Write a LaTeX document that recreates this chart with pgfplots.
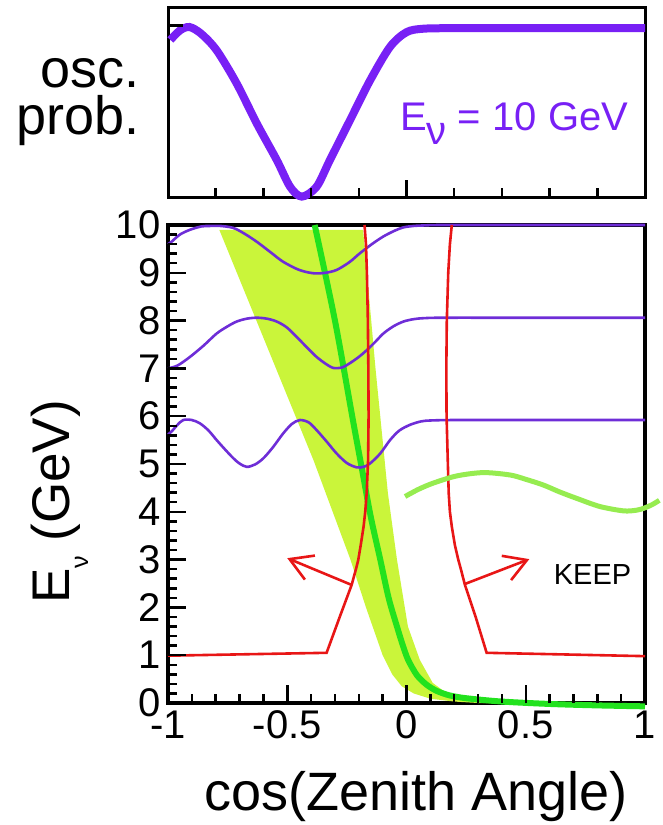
\documentclass[border=0pt]{standalone}
\usepackage{fontspec}
\setmainfont{Liberation Sans}
\usepackage{pgfplots}
\pgfplotsset{compat=1.18}
\usetikzlibrary{arrows.meta}

\definecolor{oscpurple}{RGB}{120,32,245}
\definecolor{linepurple}{RGB}{110,45,215}
\definecolor{cutred}{RGB}{232,22,22}
\definecolor{bandgreen}{RGB}{202,245,58}
\definecolor{peakgreen}{RGB}{34,226,30}
\definecolor{softgreen}{RGB}{150,236,80}

\newcommand{\fs}[1]{\fontsize{#1}{#1}\selectfont}

\begin{document}
\begin{tikzpicture}

% ---------------- lower panel: E_nu versus cos(zenith) ----------------
\begin{axis}[
  name=main,
  at={(0pt,0pt)}, anchor=south west,
  scale only axis, width=477pt, height=478pt,
  xmin=-1, xmax=1, ymin=0, ymax=10,
  axis line style={line width=4pt},
  xtick={-1,-0.5,0,0.5,1},
  xticklabels={-1,-0.5,0,0.5,1},
  minor x tick num=4,
  ytick={0,1,2,3,4,5,6,7,8,9,10},
  yticklabels={0,1,2,3,4,5,6,7,8,9,10},
  minor y tick num=4,
  tick pos=left,
  tick align=inside,
  major tick length=18pt, minor tick length=9pt,
  tick style={line width=2.5pt, draw=black},
  tick label style={font=\fs{40pt}},
  xticklabel style={yshift=-4pt},
  yticklabel style={xshift=-4pt},
  clip=false,
]
% spread of the peak region
\addplot[fill=bandgreen, draw=none] coordinates {
  (-0.785,9.9) (-0.39,5.08) (-0.235,3.0) (-0.17,2.0) (-0.10,1.0)
  (-0.06,0.6) (-0.02,0.35) (0.03,0.2) (0.10,0.09) (0.20,0.03) (0.30,0.0)
  (0.38,0.0) (0.25,0.07) (0.17,0.2) (0.11,0.42) (0.056,0.9) (0.006,1.6)
  (-0.04,3.0) (-0.078,4.39) (-0.13,7.0) (-0.182,9.9)
};
% peak line
\addplot[peakgreen, line width=6pt, smooth] coordinates {
  (-0.385,10) (-0.30,8.0) (-0.224,5.9) (-0.187,4.9) (-0.15,3.9)
  (-0.11,3.0) (-0.075,2.2) (-0.04,1.6) (-0.015,1.2) (0.007,0.9)
  (0.044,0.58) (0.085,0.38) (0.128,0.25) (0.18,0.16) (0.25,0.10)
  (0.40,0.03) (0.60,-0.02) (0.80,-0.05) (1.0,-0.07)
};
% oscillation pattern at E = 10, 8 and 6 GeV
\addplot[linepurple, line width=2.6pt, smooth] coordinates {
  (-1,9.60) (-0.985,9.65) (-0.95,9.80) (-0.908,9.90) (-0.86,9.97)
  (-0.824,9.98) (-0.78,9.98) (-0.727,9.94) (-0.68,9.82) (-0.628,9.65)
  (-0.57,9.43) (-0.517,9.23) (-0.45,9.06) (-0.39,8.99) (-0.34,9.00)
  (-0.293,9.06) (-0.24,9.22) (-0.195,9.41) (-0.145,9.60) (-0.097,9.76)
  (-0.05,9.88) (-0.013,9.95) (0.03,9.98) (0.07,9.99) (0.15,10.0)
  (0.5,10.0) (1.0,10.0)
};
\addplot[linepurple, line width=2.6pt, smooth] coordinates {
  (-1,7.0) (-0.96,7.06) (-0.908,7.24) (-0.85,7.48) (-0.796,7.73)
  (-0.75,7.88) (-0.712,7.98) (-0.67,8.04) (-0.628,8.06) (-0.585,8.04)
  (-0.544,7.98) (-0.50,7.85) (-0.447,7.59) (-0.41,7.40) (-0.377,7.24)
  (-0.34,7.10) (-0.307,7.01) (-0.27,7.02) (-0.237,7.11) (-0.20,7.24)
  (-0.167,7.38) (-0.13,7.56) (-0.097,7.73) (-0.055,7.88) (-0.013,7.98)
  (0.03,8.03) (0.07,8.05) (0.15,8.06) (0.5,8.06) (1.0,8.06)
};
\addplot[linepurple, line width=2.6pt, smooth] coordinates {
  (-1,5.62) (-0.985,5.68) (-0.96,5.82) (-0.936,5.92) (-0.90,5.92)
  (-0.866,5.85) (-0.83,5.70) (-0.796,5.50) (-0.76,5.30) (-0.726,5.12)
  (-0.70,5.01) (-0.67,4.94) (-0.635,4.99) (-0.60,5.12) (-0.56,5.35)
  (-0.517,5.64) (-0.48,5.84) (-0.447,5.92) (-0.41,5.87) (-0.377,5.71)
  (-0.335,5.47) (-0.293,5.22) (-0.25,5.02) (-0.209,4.93) (-0.18,4.94)
  (-0.153,5.01) (-0.11,5.22) (-0.069,5.50) (-0.03,5.70) (0.015,5.82)
  (0.06,5.89) (0.099,5.91) (0.2,5.92) (0.5,5.92) (1.0,5.92)
};
% selection cuts
\addplot[cutred, line width=2.6pt] coordinates {
  (-1,0.99) (-0.335,1.05) (-0.28,1.80) (-0.23,2.47) (-0.212,2.8)
  (-0.202,3.0) (-0.192,3.3) (-0.18,3.69) (-0.173,4.0) (-0.167,4.39)
  (-0.161,5.08) (-0.159,6.0) (-0.16,7.0) (-0.162,8.0) (-0.166,9.0)
  (-0.170,9.6) (-0.176,10.0)
};
\addplot[cutred, line width=2.6pt] coordinates {
  (1.0,0.98) (0.336,1.05) (0.29,1.80) (0.245,2.47) (0.228,2.8)
  (0.217,3.0) (0.203,3.3) (0.19,3.69) (0.182,4.0) (0.177,4.39)
  (0.173,5.08) (0.168,6.0) (0.167,7.0) (0.169,8.0) (0.175,9.0)
  (0.182,9.6) (0.19,10.0)
};
\draw[cutred, line width=2.6pt, -{Straight Barb[length=22pt, width=26pt]}]
  (axis cs:-0.23,2.47) -- (axis cs:-0.50,3.03);
\draw[cutred, line width=2.6pt, -{Straight Barb[length=22pt, width=26pt]}]
  (axis cs:0.245,2.49) -- (axis cs:0.515,3.01);
\node[font=\fs{29pt}] at (axis cs:0.78,2.68) {KEEP};
% down-going reference curve
\addplot[softgreen, line width=5pt, smooth] coordinates {
  (-0.006,4.32) (0.05,4.47) (0.112,4.60) (0.21,4.75) (0.322,4.82)
  (0.434,4.77) (0.50,4.68) (0.574,4.56) (0.64,4.42) (0.714,4.28)
  (0.811,4.11) (0.909,4.02) (0.96,4.03) (0.993,4.07) (1.03,4.15)
  (1.06,4.24)
};
\end{axis}

% ---------------- upper panel: oscillation probability at 10 GeV ----------------
\begin{axis}[
  at={(0pt,505pt)}, anchor=south west,
  scale only axis, width=477pt, height=190pt,
  xmin=-1, xmax=1, ymin=0, ymax=1.1,
  axis line style={line width=3pt},
  xtick={-1,0,1},
  minor xtick={-0.8,-0.6,-0.4,-0.2,0.2,0.4,0.6,0.8},
  ytick={1},
  xticklabels={}, yticklabels={},
  tick pos=left,
  tick align=inside,
  major tick length=18pt, minor tick length=10pt,
  tick style={line width=2.5pt, draw=black},
  clip=false,
]
\addplot[oscpurple, line width=8pt, smooth] coordinates {
  (-0.99,0.915) (-0.95,0.97) (-0.91,0.99) (-0.86,0.95) (-0.796,0.855)
  (-0.712,0.663) (-0.628,0.432) (-0.544,0.22) (-0.488,0.065)
  (-0.439,0.008) (-0.377,0.065) (-0.321,0.22) (-0.237,0.45)
  (-0.153,0.68) (-0.069,0.875) (0.0,0.96) (0.07,0.98) (0.2,0.983)
  (0.6,0.983) (1.0,0.983)
};
\node[anchor=base east, text=oscpurple, font=\fs{40pt}, inner sep=0pt]
  at (axis cs:0.93,0.39)
  {E\raisebox{-0.35em}{ν} = 10 GeV};
\end{axis}

% ---------------- tick combs along the lower and left edges ----------------
\begin{scope}[line width=2.5pt, black]
  % lower panel, energy axis: minor every 0.2 GeV, major every 1 GeV
  \foreach \k in {0,...,50} {\draw ({0pt},{\k*9.56pt}) -- ++(9pt,0pt);}
  \foreach \k in {0,...,10} {\draw ({0pt},{\k*47.8pt}) -- ++(18pt,0pt);}
  % lower panel, cos(zenith) axis: minor every 0.1, major every 0.5
  \foreach \k in {0,...,20} {\draw ({\k*23.85pt},{0pt}) -- ++(0pt,9pt);}
  \foreach \k in {0,...,4} {\draw ({\k*119.25pt},{0pt}) -- ++(0pt,18pt);}
  % upper panel: minor every 0.2, major at -1, 0, 1, and the P = 1 mark
  \foreach \k in {0,...,10} {\draw ({\k*47.7pt},{505pt}) -- ++(0pt,10pt);}
  \foreach \k in {0,...,2} {\draw ({\k*238.5pt},{505pt}) -- ++(0pt,18pt);}
  \draw (0pt,677.7pt) -- ++(15pt,0pt);
\end{scope}

% ---------------- panel titles and axis labels ----------------
\node[anchor=base east, font=\fs{54pt}, inner sep=0pt] at (-28pt,615pt) {osc.};
\node[anchor=base east, font=\fs{54pt}, inner sep=0pt] at (-28pt,568pt) {prob.};
\node[anchor=base, font=\fs{54pt}, inner sep=0pt] at (248pt,-107pt) {cos(Zenith Angle)};
\node[anchor=base, rotate=90, font=\fs{53pt}, inner sep=0pt] at (-98pt,201pt)
  {E\raisebox{-0.34em}{\fs{25pt}ν} (GeV)};

% page frame
\path (-168pt,-122pt) rectangle (494pt,703pt);
\end{tikzpicture}
\end{document}
